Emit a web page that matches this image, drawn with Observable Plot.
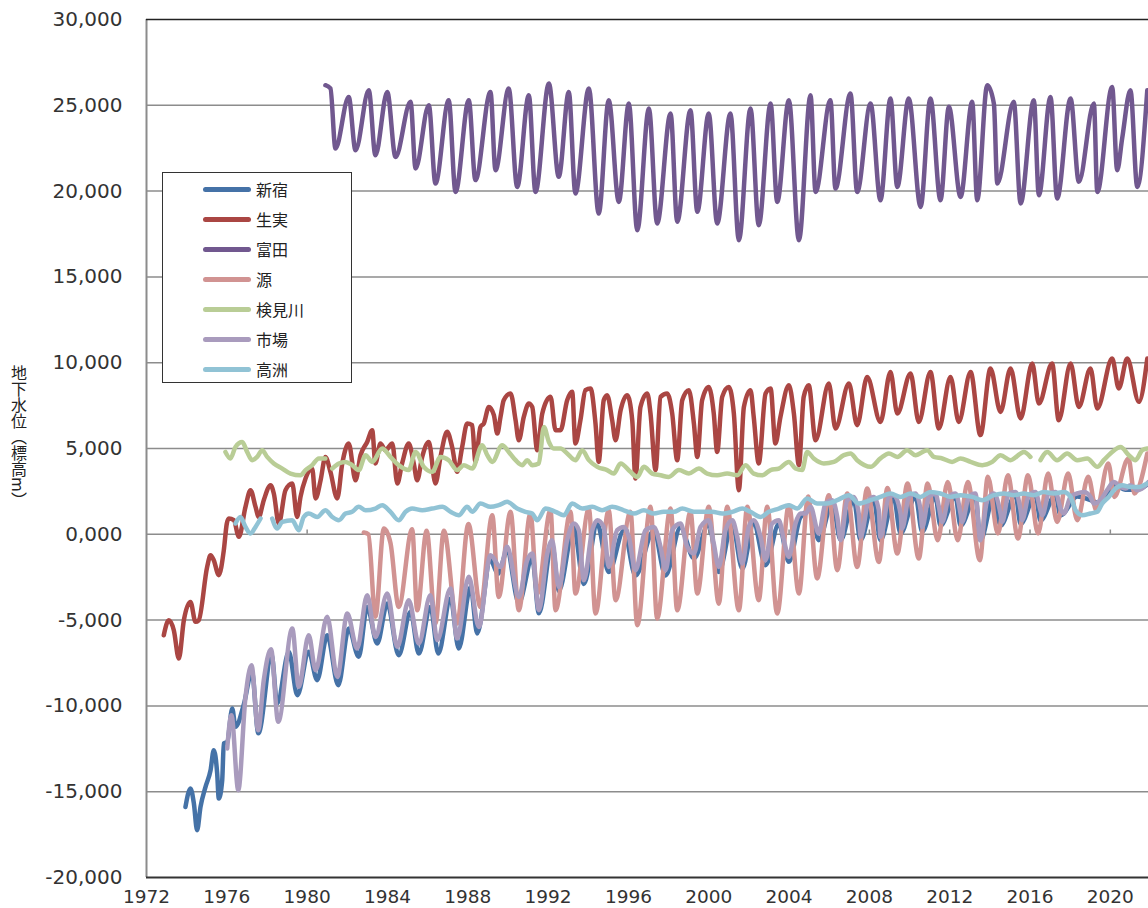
<!DOCTYPE html>
<html>
<head>
<meta charset="utf-8">
<script src="https://cdn.jsdelivr.net/npm/d3@7"></script>
<script src="https://cdn.jsdelivr.net/npm/@observablehq/plot@0.6"></script>
<style>
  body { margin: 0; background: #fff; }
  #chart { position: relative; width: 1148px; height: 908px; overflow: hidden; }
  #ytitle { position: absolute; left: 10px; top: 365px; writing-mode: vertical-rl;
            font: 16px "Noto Sans CJK JP", sans-serif; color: #222; line-height: 17px; }
  #legend { position: absolute; left: 162px; top: 172px; width: 190px; height: 211px;
            border: 1.5px solid #333; background: #fff; box-sizing: border-box; }
  .item { position: absolute; left: 40px; height: 30px; display: flex; align-items: center;
          font: 16px "Noto Sans CJK JP", sans-serif; color: #222; }
  .swatch { width: 48px; height: 5px; border-radius: 3px; margin-right: 5px; }
</style>
</head>
<body>
<div id="chart">
  <div id="ytitle">地下水位（標高m）</div>
  <div id="legend"></div>
</div>
<script>
// Observation wells, in drawing order (later ones are drawn on top)
const names  = ["新宿", "生実", "富田", "源", "検見川", "市場", "高洲"];
const colors = ["#4572A7", "#AA4643", "#71588F", "#D19392", "#B9CD96", "#A99BBD", "#91C3D5"];

// Groundwater level [year, metres above sea level]; null marks a gap in the record
const shinjuku = [
  [1973.94,-15.89],[1974.19,-14.81],[1974.36,-15.69],[1974.52,-17.24],[1974.69,-15.89],[1974.94,-14.72],
  [1975.19,-13.75],[1975.35,-12.58],[1975.52,-13.94],[1975.60,-15.40],[1975.77,-14.33],[1975.85,-12.19],
  [1976.02,-12.10],[1976.27,-10.15],[1976.43,-11.22],[1976.85,-9.90],[1977.25,-8.00],[1977.57,-11.60],
  [1978.23,-7.05],[1978.51,-9.86],[1979.09,-6.85],[1979.51,-9.38],[1980.08,-6.85],[1980.50,-8.50],
  [1981.00,-5.88],[1981.55,-8.79],[1982.07,-5.49],[1982.57,-7.14],[1982.99,-4.23],[1983.49,-6.36],
  [1983.99,-4.03],[1984.56,-7.05],[1985.15,-4.52],[1985.56,-6.95],[1986.14,-4.23],[1986.53,-6.95],
  [1987.14,-3.74],[1987.55,-6.66],[1988.14,-3.07],[1988.47,-5.78],[1989.13,-1.50],[1989.50,-2.30],
  [1989.96,-1.00],[1990.54,-4.00],[1991.21,-1.40],[1991.54,-4.60],[1992.20,-0.60],[1992.53,-3.30],
  [1993.28,0.40],[1993.78,-2.90],[1994.45,0.60],[1995.02,-2.20],[1995.77,0.20],[1996.35,-2.40],
  [1997.26,0.20],[1997.85,-2.40],[1998.59,0.40],[1999.26,-1.40],[2000.00,0.60],[2000.50,-2.20],
  [2001.17,0.60],[2001.67,-2.00],[2002.24,0.60],[2002.83,-1.80],[2003.49,0.60],[2003.99,-1.60],
  [2004.57,1.00],[2005.07,1.40],[2005.48,-0.34],[2006.15,1.80],[2006.57,-0.34],[2007.22,2.00],
  [2007.56,-0.34],[2008.22,2.00],[2008.55,-0.34],[2009.22,2.10],[2009.55,0.05],[2010.30,2.20],
  [2010.63,0.14],[2011.29,2.20],[2011.54,0.50],[2012.29,2.20],[2012.54,0.50],[2013.28,2.20],
  [2013.53,-0.34],[2014.20,2.20],[2014.53,0.50],[2015.28,2.30],[2015.53,0.60],[2016.27,2.30],
  [2016.52,0.80],[2017.27,2.30],[2017.52,1.10],[2018.35,2.20],[2019.01,2.00],[2019.51,1.80],
  [2020.17,2.90],[2020.76,2.60],[2021.34,2.60],[2021.84,2.90]
];

const oyumi = [
  [1972.86,-5.88],[1973.11,-5.01],[1973.36,-5.59],[1973.61,-7.24],[1973.86,-5.01],[1974.19,-3.94],
  [1974.44,-5.10],[1974.60,-5.01],[1975.02,-1.90],[1975.19,-1.22],[1975.35,-1.51],[1975.60,-2.38],
  [1975.85,-0.93],[1976.00,0.63],[1976.10,0.92],[1976.35,0.82],[1976.60,-0.15],[1976.93,1.60],
  [1977.18,2.57],[1977.43,1.60],[1977.59,1.01],[1977.84,1.99],[1978.18,2.86],[1978.34,2.38],
  [1978.59,0.63],[1978.92,2.57],[1979.26,2.96],[1979.50,1.01],[1979.67,2.18],[1979.92,3.25],
  [1980.25,3.83],[1980.42,2.09],[1980.67,3.15],[1980.91,4.51],[1981.16,3.64],[1981.50,2.09],
  [1981.75,4.13],[1982.07,5.29],[1982.41,3.15],[1982.66,4.61],[1982.99,5.38],[1983.24,6.07],
  [1983.40,4.13],[1983.65,5.29],[1983.90,4.90],[1984.24,5.29],[1984.49,2.96],[1984.73,4.13],
  [1985.06,5.29],[1985.31,4.13],[1985.48,3.15],[1985.73,4.51],[1986.06,5.38],[1986.39,2.96],
  [1986.64,4.51],[1986.97,5.97],[1987.22,5.09],[1987.47,3.64],[1987.72,5.09],[1987.97,6.46],
  [1988.22,6.36],[1988.38,4.22],[1988.63,6.26],[1988.80,6.46],[1989.05,7.42],[1989.30,6.94],
  [1989.47,5.87],[1989.63,6.84],[1989.79,7.81],[1990.13,8.21],[1990.38,6.65],[1990.54,5.48],
  [1990.79,6.84],[1991.04,7.62],[1991.21,7.42],[1991.46,4.90],[1991.71,7.04],[1992.12,8.01],
  [1992.37,6.07],[1992.62,6.07],[1992.95,7.81],[1993.20,8.30],[1993.36,5.29],[1993.61,6.65],
  [1993.86,8.40],[1994.11,8.50],[1994.36,6.46],[1994.52,4.22],[1994.77,7.81],[1994.94,8.11],
  [1995.19,6.65],[1995.36,5.48],[1995.61,7.23],[1995.94,8.11],[1996.19,6.65],[1996.35,3.25],
  [1996.60,7.42],[1996.94,8.21],[1997.10,7.04],[1997.35,3.74],[1997.60,8.01],[1997.93,8.21],
  [1998.18,7.04],[1998.43,4.32],[1998.68,7.81],[1999.01,8.40],[1999.26,6.46],[1999.43,4.51],
  [1999.67,7.81],[2000.00,8.59],[2000.25,7.04],[2000.42,4.80],[2000.67,8.01],[2001.00,8.59],
  [2001.25,7.04],[2001.50,2.57],[2001.75,7.42],[2002.08,8.40],[2002.24,6.84],[2002.49,4.13],
  [2002.83,8.21],[2003.08,8.50],[2003.32,5.29],[2003.57,6.84],[2003.99,8.69],[2004.24,7.04],
  [2004.49,4.03],[2004.73,8.01],[2004.98,8.69],[2005.32,5.48],[2005.98,8.79],[2006.31,6.17],
  [2006.98,8.79],[2007.39,6.36],[2007.89,9.17],[2008.55,6.55],[2009.05,9.46],[2009.39,7.04],
  [2010.05,9.37],[2010.46,6.55],[2011.04,9.46],[2011.46,6.17],[2012.04,9.17],[2012.45,6.55],
  [2013.04,9.46],[2013.53,5.78],[2014.03,9.66],[2014.53,7.13],[2015.03,9.66],[2015.53,6.75],
  [2016.11,9.95],[2016.44,7.62],[2017.10,9.95],[2017.43,6.65],[2018.02,9.95],[2018.43,7.42],
  [2019.01,9.66],[2019.35,7.33],[2020.09,10.24],[2020.42,8.50],[2020.84,10.24],[2021.42,7.72],
  [2021.84,10.24]
];

const tomita = [
  [1980.91,26.17],[1981.16,25.98],[1981.41,22.48],[1982.07,25.49],[1982.41,22.38],[1983.07,25.88],
  [1983.40,22.09],[1983.99,25.78],[1984.40,21.99],[1985.15,25.20],[1985.40,21.32],[1986.06,25.01],
  [1986.39,20.44],[1987.05,25.30],[1987.39,19.95],[1988.05,25.30],[1988.38,20.64],[1989.13,25.78],
  [1989.38,21.22],[1990.04,25.98],[1990.46,20.24],[1991.04,25.59],[1991.37,19.95],[1992.04,26.27],
  [1992.53,20.83],[1993.03,25.78],[1993.36,19.86],[1994.03,25.98],[1994.52,18.69],[1995.02,25.30],
  [1995.52,19.37],[1996.02,25.10],[1996.44,17.72],[1997.02,24.81],[1997.43,18.11],[1998.10,24.52],
  [1998.43,18.21],[1999.09,24.71],[1999.43,18.79],[2000.00,24.52],[2000.42,18.11],[2001.08,24.52],
  [2001.50,17.14],[2002.08,24.81],[2002.49,18.01],[2003.08,25.10],[2003.41,19.37],[2003.99,25.30],
  [2004.49,17.14],[2005.07,25.59],[2005.32,19.95],[2006.06,25.30],[2006.31,20.15],[2007.06,25.69],
  [2007.39,19.95],[2008.06,25.10],[2008.55,19.47],[2009.05,25.40],[2009.39,20.24],[2009.96,25.40],
  [2010.55,19.08],[2011.04,25.40],[2011.54,19.47],[2011.96,24.91],[2012.54,19.66],[2013.12,25.20],
  [2013.37,19.47],[2013.87,26.17],[2014.20,25.10],[2014.37,20.44],[2015.19,25.20],[2015.53,19.28],
  [2016.19,25.30],[2016.44,19.76],[2017.02,25.49],[2017.35,19.57],[2018.02,25.40],[2018.43,20.54],
  [2019.18,25.10],[2019.35,19.95],[2020.09,26.07],[2020.34,21.22],[2020.59,23.08],[2021.00,25.88],
  [2021.34,20.24],[2021.84,25.88]
];

const minamoto = [
  [1982.82,0.10],[1983.05,0.00],[1983.40,-4.81],[1983.82,0.34],[1984.15,-0.50],[1984.56,-4.23],
  [1985.23,0.30],[1985.48,-4.43],[1985.95,0.20],[1986.39,-5.20],[1986.81,0.20],[1987.47,-5.20],
  [1988.03,0.60],[1988.63,-4.24],[1989.22,1.11],[1989.54,-3.65],[1990.13,1.31],[1990.54,-4.43],
  [1991.12,1.21],[1991.46,-3.45],[1992.12,1.40],[1992.37,-4.43],[1993.12,1.31],[1993.36,-3.45],
  [1994.03,1.50],[1994.36,-4.62],[1995.02,1.40],[1995.36,-3.84],[1996.10,1.31],[1996.44,-5.30],
  [1997.10,1.60],[1997.43,-4.91],[1998.10,1.50],[1998.43,-4.43],[1999.09,1.31],[1999.43,-3.45],
  [2000.00,1.60],[2000.50,-4.04],[2000.92,1.60],[2001.50,-4.43],[2001.92,1.60],[2002.49,-3.84],
  [2002.91,1.60],[2003.41,-4.62],[2003.99,1.70],[2004.49,-3.45],[2004.95,2.20],[2005.40,-2.57],
  [2005.98,2.28],[2006.40,-2.09],[2006.90,2.38],[2007.39,-1.90],[2007.89,2.67],[2008.47,-1.61],
  [2008.90,2.70],[2009.39,-1.12],[2009.90,2.96],[2010.46,-1.41],[2010.90,2.96],[2011.40,-0.34],
  [2011.90,3.05],[2012.40,-0.34],[2012.90,3.05],[2013.50,-1.51],[2013.90,3.35],[2014.40,0.05],
  [2014.90,3.44],[2015.40,-0.24],[2015.90,3.44],[2016.40,0.05],[2016.90,3.54],[2017.35,0.72],
  [2017.90,3.54],[2018.35,0.82],[2018.90,3.35],[2019.30,1.40],[2019.90,4.13],[2020.20,2.18],
  [2020.90,4.42],[2021.20,2.38],[2021.84,4.71]
];

const kemigawa = [
  [1975.93,4.80],[1976.18,4.42],[1976.43,5.09],[1976.77,5.38],[1977.01,4.80],[1977.26,4.32],
  [1977.51,4.51],[1977.76,4.90],[1978.01,4.51],[1978.34,4.13],[1978.76,3.83],[1979.17,3.54],
  [1979.67,3.44],[1979.92,3.74],[1980.25,4.03],[1980.58,4.42],[1980.91,4.42],[1981.05,null],
  [1981.25,3.83],[1981.58,4.13],[1981.91,4.22],[1982.24,4.03],[1982.57,3.74],[1982.91,4.61],
  [1983.24,4.22],[1983.74,5.00],[1984.15,4.51],[1984.56,4.03],[1985.06,3.74],[1985.40,4.80],
  [1985.81,3.93],[1986.23,3.64],[1986.64,4.51],[1987.05,4.32],[1987.47,3.74],[1987.80,4.03],
  [1988.22,3.83],[1988.72,5.19],[1988.97,4.61],[1989.22,4.22],[1989.71,5.19],[1990.04,4.80],
  [1990.38,4.32],[1990.71,4.03],[1990.96,4.32],[1991.21,4.03],[1991.54,4.13],[1991.79,6.26],
  [1992.04,5.38],[1992.28,5.00],[1992.62,5.00],[1992.95,4.71],[1993.36,4.32],[1993.70,4.90],
  [1994.03,4.32],[1994.45,3.93],[1994.94,3.74],[1995.27,3.54],[1995.61,4.13],[1996.10,3.64],
  [1996.44,3.34],[1996.77,3.93],[1997.18,3.54],[1997.60,3.44],[1998.01,3.34],[1998.51,3.74],
  [1999.01,3.54],[1999.51,3.83],[1999.92,3.54],[2000.42,3.44],[2000.92,3.54],[2001.42,3.44],
  [2001.83,4.03],[2002.24,3.54],[2002.66,3.44],[2003.08,3.74],[2003.49,3.83],[2003.99,4.22],
  [2004.32,3.83],[2004.65,3.74],[2004.90,4.80],[2005.23,4.42],[2005.73,4.13],[2006.23,4.22],
  [2006.73,4.61],[2007.06,4.71],[2007.39,4.32],[2008.06,3.93],[2008.55,4.42],[2008.97,4.71],
  [2009.39,4.51],[2009.88,4.90],[2010.30,4.61],[2010.88,4.90],[2011.21,4.51],[2011.63,4.42],
  [2012.12,4.22],[2012.54,4.42],[2013.04,4.22],[2013.62,4.03],[2014.12,4.22],[2014.53,4.61],
  [2015.03,4.32],[2015.53,4.71],[2015.69,4.80],[2016.02,4.51],[2016.25,null],[2016.52,4.32],
  [2016.86,4.80],[2017.35,4.32],[2017.85,4.71],[2018.35,4.32],[2018.85,4.42],[2019.35,3.93],
  [2019.67,4.32],[2020.09,4.80],[2020.51,5.09],[2020.92,4.61],[2021.25,4.32],[2021.59,4.90],
  [2021.84,5.00]
];

const ichiba = [
  [1976.02,-12.48],[1976.23,-10.54],[1976.57,-14.91],[1976.93,-9.48],[1977.23,-7.63],[1977.56,-11.42],
  [1977.84,-8.50],[1978.20,-6.70],[1978.56,-10.93],[1979.26,-5.49],[1979.58,-8.89],[1980.08,-5.88],
  [1980.42,-7.92],[1981.00,-4.81],[1981.50,-8.31],[1982.00,-4.62],[1982.49,-6.66],[1982.99,-3.55],
  [1983.40,-5.98],[1983.99,-3.45],[1984.49,-6.56],[1985.06,-3.84],[1985.56,-6.36],[1986.14,-3.55],
  [1986.48,-6.17],[1987.14,-3.16],[1987.47,-6.07],[1988.05,-2.48],[1988.55,-5.40],[1989.13,-1.22],
  [1989.63,-1.90],[1989.96,-0.73],[1990.54,-3.65],[1990.96,-1.51],[1991.21,-1.12],[1991.54,-4.42],
  [1991.96,-1.12],[1992.20,-0.34],[1992.53,-3.07],[1992.95,-0.34],[1993.28,0.63],[1993.53,0.24],
  [1993.78,-2.68],[1994.20,0.24],[1994.45,0.82],[1994.77,0.43],[1995.02,-1.90],[1995.44,0.24],
  [1995.77,0.43],[1996.02,-0.15],[1996.35,-2.09],[1996.85,0.24],[1997.26,0.43],[1997.60,-0.73],
  [1997.85,-2.09],[1998.18,0.24],[1998.59,0.63],[1998.93,-0.73],[1999.26,-1.12],[1999.59,0.43],
  [2000.00,0.82],[2000.25,-0.54],[2000.50,-1.90],[2000.83,0.24],[2001.17,0.82],[2001.42,-0.15],
  [2001.67,-1.70],[2001.99,0.43],[2002.24,0.82],[2002.58,-0.15],[2002.83,-1.51],[2003.16,0.63],
  [2003.49,0.82],[2003.74,-0.34],[2003.99,-1.32],[2004.32,0.63],[2004.57,1.21],[2004.82,1.21],
  [2005.07,1.60],[2005.48,0.05],[2005.81,1.79],[2006.15,1.99],[2006.40,1.01],[2006.57,-0.34],
  [2006.90,1.99],[2007.22,2.18],[2007.47,1.21],[2007.56,-0.15],[2007.97,1.99],[2008.22,2.18],
  [2008.47,1.40],[2008.55,-0.15],[2008.97,2.18],[2009.22,2.28],[2009.55,1.21],[2009.63,0.34],
  [2009.97,2.18],[2010.30,2.38],[2010.55,1.40],[2010.63,0.43],[2010.96,2.18],[2011.29,2.38],
  [2011.46,1.60],[2011.63,0.72],[2011.96,2.18],[2012.29,2.38],[2012.54,1.21],[2012.62,0.72],
  [2012.95,2.18],[2013.28,2.38],[2013.53,-0.34],[2013.87,1.99],[2014.20,2.38],[2014.53,1.21],
  [2014.61,0.72],[2014.94,2.38],[2015.28,2.47],[2015.53,1.40],[2015.61,0.82],[2015.94,2.28],
  [2016.27,2.47],[2016.52,1.40],[2016.61,1.11],[2016.94,2.38],[2017.27,2.47],[2017.52,1.50],
  [2017.68,1.21],[2018.02,2.18],[2018.35,2.38],[2018.68,2.47],[2019.01,2.18],[2019.18,1.79],
  [2019.51,1.99],[2019.84,2.57],[2020.17,3.05],[2020.51,2.76],[2020.76,2.67],[2021.00,2.86],
  [2021.34,2.57],[2021.67,2.76],[2021.90,3.05]
];

const takasu = [
  [1976.43,0.63],[1976.68,1.01],[1976.93,0.43],[1977.18,0.05],[1977.43,0.43],[1977.68,0.92],[1977.90,null],
  [1978.26,0.92],[1978.51,0.34],[1978.76,0.72],[1979.26,0.82],[1979.58,0.24],[1979.83,1.01],[1980.08,1.21],
  [1980.50,1.01],[1980.91,1.40],[1981.25,1.01],[1981.58,0.82],[1981.91,1.21],[1982.24,1.31],[1982.57,1.60],
  [1982.91,1.40],[1983.40,1.50],[1983.74,1.70],[1984.15,1.31],[1984.56,0.82],[1984.90,1.31],[1985.23,1.50],
  [1985.73,1.40],[1986.23,1.50],[1986.73,1.60],[1987.14,1.31],[1987.55,1.11],[1987.97,1.60],[1988.22,1.31],
  [1988.63,1.79],[1989.13,1.60],[1989.54,1.70],[1989.96,1.89],[1990.46,1.50],[1990.87,1.31],[1991.21,1.21],
  [1991.46,0.82],[1991.87,1.50],[1992.37,1.31],[1992.78,1.11],[1993.20,1.79],[1993.70,1.50],[1994.20,1.60],
  [1994.69,1.40],[1995.19,1.60],[1995.77,1.40],[1996.27,1.21],[1996.77,1.40],[1997.26,1.21],[1997.76,1.31],
  [1998.26,1.31],[1998.68,1.50],[1999.26,1.31],[1999.67,1.31],[2000.17,1.31],[2000.67,1.21],[2001.17,1.31],
  [2001.67,1.50],[2002.08,1.31],[2002.58,1.01],[2002.99,1.31],[2003.49,1.50],[2003.99,1.70],[2004.41,1.50],
  [2004.90,2.09],[2005.40,1.79],[2005.90,1.79],[2006.40,1.99],[2006.98,2.28],[2007.47,1.79],[2008.06,1.99],
  [2008.55,2.18],[2009.05,2.38],[2009.55,2.18],[2010.05,2.38],[2010.55,2.18],[2011.04,2.47],[2011.54,2.38],
  [2012.04,2.18],[2012.54,2.28],[2013.12,2.18],[2013.62,1.99],[2014.20,2.28],[2014.69,2.38],[2015.19,2.28],
  [2015.69,2.38],[2016.19,2.28],[2016.69,2.47],[2017.18,2.38],[2017.68,2.47],[2018.02,2.18],[2018.27,1.40],
  [2018.60,1.11],[2019.01,1.21],[2019.35,1.31],[2019.59,1.79],[2019.92,2.18],[2020.26,2.67],[2020.59,2.86],
  [2021.00,2.76],[2021.42,2.76],[2021.84,2.96]
];

const seriesData = [shinjuku, oyumi, tomita, minamoto, kemigawa, ichiba, takasu];

// Axis ticks
const yearTicks  = [1972, 1976, 1980, 1984, 1988, 1992, 1996, 2000, 2004, 2008, 2012, 2016, 2020];
const levelTicks = [-20, -15, -10, -5, 0, 5, 10, 15, 20, 25, 30];

const fmtLevel = d => d.toFixed(3).replace(".", ",");

const chart = Plot.plot({
  width: 1148,
  height: 908,
  marginLeft: 146,
  marginRight: 0,
  marginTop: 19,
  marginBottom: 31,
  style: { fontFamily: "DejaVu Sans, sans-serif", fontSize: "20px", color: "#333", background: "transparent" },
  x: { domain: [1972, 2021.9] },
  y: { domain: [-20, 30] },
  marks: [
    Plot.ruleY(levelTicks.filter(d => d > -20 && d < 30), { stroke: "#8c8c8c", strokeWidth: 1.5 }),
    Plot.ruleX(yearTicks.slice(1), { y1: 0, y2: 0.25, stroke: "#8c8c8c", strokeWidth: 1.5 }),
    Plot.ruleX([1972], { stroke: "#8c8c8c", strokeWidth: 2 }),
    Plot.ruleY([30], { stroke: "#222", strokeWidth: 1.5 }),
    Plot.ruleY([-20], { stroke: "#333", strokeWidth: 2 }),
    ...seriesData.map((rows, i) => Plot.line(rows, {
      x: d => d[0], y: d => d[1],
      stroke: colors[i], strokeWidth: 4.5,
      strokeLinejoin: "round", strokeLinecap: "round",
      curve: "monotone-x", clip: true
    })),
    Plot.axisY({ ticks: levelTicks, tickFormat: fmtLevel, tickSize: 0, tickPadding: 24, label: null, fontSize: 20 }),
    Plot.axisX({ ticks: yearTicks, tickFormat: d => String(d), tickSize: 0, tickPadding: 12, label: null, fontSize: 18.5 })
  ]
});
chart.style.position = "absolute";
chart.style.left = "0";
chart.style.top = "0";
const host = document.getElementById("chart");
host.insertBefore(chart, host.firstChild);

// Legend
const legend = document.getElementById("legend");
names.forEach((name, i) => {
  const item = document.createElement("div");
  item.className = "item";
  item.style.top = (1 + i * 30) + "px";
  const sw = document.createElement("span");
  sw.className = "swatch";
  sw.style.background = colors[i];
  const label = document.createElement("span");
  label.textContent = name;
  item.appendChild(sw);
  item.appendChild(label);
  legend.appendChild(item);
});
</script>
</body>
</html>
